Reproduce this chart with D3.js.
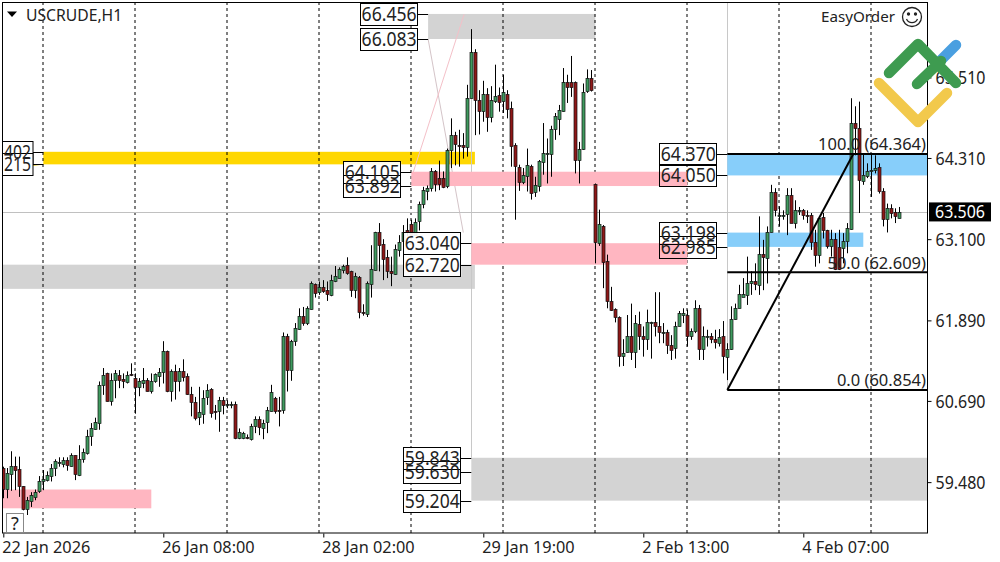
<!DOCTYPE html>
<html>
<head>
<meta charset="utf-8">
<script src="https://cdn.jsdelivr.net/npm/d3@7"></script>
<style>
html,body{margin:0;padding:0;background:#fff;overflow:hidden}
svg{display:block}
text{font-family:"Noto Sans","Liberation Sans",sans-serif;fill:#222}
</style>
</head>
<body>
<div id="chart"></div>
<script>
const opens=[59.69,59.37,59.60,59.72,59.67,59.42,59.07,59.20,59.27,59.34,
59.49,59.51,59.57,59.69,59.76,59.75,59.81,59.72,59.88,59.59,
59.82,59.91,60.16,60.27,60.36,60.93,61.10,60.69,60.99,61.08,
61.01,60.98,61.09,61.03,60.89,60.96,61.00,60.83,60.98,61.06,
61.11,61.43,60.84,61.14,60.99,61.14,61.06,60.80,60.68,60.44,
60.50,60.75,60.87,60.54,60.53,60.70,60.62,60.62,60.64,60.14,
60.14,60.15,60.12,60.31,60.42,60.29,60.37,60.54,60.73,60.55,
60.55,61.66,61.16,61.57,61.76,61.95,61.84,62.06,62.43,62.31,
62.38,62.34,62.26,62.47,62.53,62.64,62.71,62.62,62.34,62.54,
62.01,61.99,62.43,62.64,63.20,63.03,62.83,62.62,62.58,62.94,
63.08,63.23,63.33,63.16,63.36,63.62,63.82,63.86,64.11,64.01,
64.01,63.89,64.42,64.65,64.51,64.50,64.48,65.21,65.89,65.18,
65.01,65.26,64.91,65.16,65.25,65.15,65.26,65.05,64.50,64.17,
63.95,64.05,64.19,63.80,63.90,64.25,64.37,64.37,64.74,64.90,
65.01,65.44,65.44,65.44,64.28,64.44,65.30,65.50,63.92,63.05,
63.30,62.78,62.18,62.06,61.94,61.36,61.42,61.66,61.42,61.84,
61.66,61.61,61.85,61.86,61.80,61.71,61.71,61.53,61.47,61.80,
61.97,61.97,61.65,61.72,62.07,61.46,61.65,61.65,61.61,61.55,
61.66,61.35,61.47,61.91,62.08,62.25,62.26,62.44,62.47,62.42,
62.88,62.83,63.21,63.80,63.45,63.44,63.48,63.76,63.35,63.52,
63.53,63.46,63.46,63.06,62.86,63.43,63.24,63.00,63.11,62.99,
62.98,63.06,63.25,64.83,64.75,63.97,64.05,64.11,64.13,64.17,
63.82,63.41,63.57,63.50,63.42];
const highs=[59.71,59.69,59.94,59.86,59.86,59.42,59.26,59.33,59.37,59.57,
59.66,59.64,59.75,59.82,59.85,59.85,59.85,59.91,59.88,60.03,
59.98,60.26,60.36,60.44,60.98,61.18,61.11,61.10,61.15,61.15,
61.10,61.13,61.25,61.10,61.03,61.18,61.03,61.10,61.10,61.18,
61.58,61.44,61.16,61.23,61.18,61.31,61.10,60.90,60.75,60.90,
60.85,60.94,60.88,60.63,60.75,60.75,60.70,60.68,60.68,60.28,
60.23,60.19,60.35,60.46,60.46,60.41,60.60,60.93,60.75,60.75,
61.71,61.69,61.60,61.85,62.07,62.09,62.10,62.47,62.44,62.47,
62.49,62.47,62.57,62.70,62.68,62.72,62.83,62.63,62.60,62.55,
62.13,62.47,63.01,63.21,63.34,63.10,62.94,62.84,63.02,63.16,
63.31,63.41,63.39,63.41,63.66,63.88,63.90,64.16,64.13,64.27,
64.11,64.45,64.90,64.70,64.73,64.68,65.40,66.23,65.93,65.32,
65.46,65.35,65.38,65.70,65.36,65.55,65.32,65.15,64.53,64.21,
64.16,64.45,64.21,64.03,64.28,64.83,64.60,64.79,64.98,65.10,
65.65,65.55,65.83,65.45,64.55,65.42,65.63,65.62,63.93,63.54,
63.31,62.87,62.39,62.07,61.95,61.61,61.97,62.14,61.97,62.02,
61.80,62.05,61.87,62.31,62.31,61.85,61.75,61.67,61.87,62.03,
62.07,62.05,61.77,62.19,62.12,61.80,61.75,61.70,61.75,61.76,
61.88,61.55,62.10,62.14,62.42,62.52,62.84,62.62,62.74,63.44,
63.09,63.29,63.91,63.86,63.59,63.53,63.86,63.86,63.68,63.58,
63.55,63.53,63.49,63.24,63.44,63.49,63.24,63.24,63.19,63.24,
63.19,63.34,65.20,65.08,65.15,64.38,64.23,64.38,64.35,64.23,
63.86,63.63,63.62,63.56,63.58];
const lows=[59.24,59.24,59.35,59.36,59.26,59.06,58.99,59.11,59.21,59.32,
59.36,59.49,59.49,59.57,59.71,59.70,59.65,59.71,59.51,59.57,
59.77,59.89,60.02,60.26,60.26,60.78,60.68,60.62,60.73,60.88,
60.88,60.95,61.06,60.50,60.76,60.88,60.83,60.80,60.96,60.90,
60.95,60.82,60.68,60.71,60.83,60.98,60.78,60.46,60.40,60.33,
60.35,60.63,60.44,60.41,60.23,60.49,60.58,60.58,60.12,60.12,
60.12,60.12,60.10,60.21,60.18,60.12,60.21,60.53,60.50,60.31,
60.50,60.83,60.99,61.51,61.75,61.81,61.82,62.05,62.23,62.27,
62.30,62.18,62.25,62.46,62.52,62.59,62.57,62.24,62.22,61.92,
61.96,61.94,62.23,62.63,62.62,62.49,62.52,62.40,62.57,62.84,
63.04,63.14,63.14,63.16,63.23,63.56,63.68,63.81,63.81,63.83,
63.86,63.86,64.16,64.20,64.18,64.30,64.33,65.20,64.65,64.66,
64.85,64.70,64.84,65.13,65.00,64.98,64.90,64.18,63.39,63.82,
63.92,63.81,63.69,63.73,63.81,64.06,63.93,64.03,64.58,64.65,
65.00,65.13,65.22,64.08,63.93,64.43,65.28,65.30,62.74,63.00,
62.37,62.07,62.03,61.86,61.20,61.21,61.41,61.30,61.18,61.45,
61.35,61.45,61.32,61.65,61.55,61.55,61.39,61.30,61.32,61.80,
61.85,61.50,61.60,61.70,61.30,61.30,61.50,61.55,61.47,61.50,
61.10,61.00,61.45,61.90,62.07,62.24,62.12,62.27,62.34,62.27,
62.34,62.44,63.20,63.44,63.29,63.39,63.16,63.34,63.26,63.46,
63.39,63.34,62.94,62.69,62.74,63.11,62.96,62.84,62.64,62.64,
62.74,62.89,63.24,64.35,63.49,63.91,64.01,63.73,64.08,63.78,
63.29,63.20,63.41,63.34,63.41];
const closes=[59.38,59.61,59.72,59.66,59.41,59.07,59.21,59.29,59.34,59.49,
59.52,59.59,59.69,59.79,59.78,59.81,59.74,59.88,59.59,59.83,
59.93,60.16,60.28,60.37,60.93,61.08,60.69,61.00,61.10,61.00,
60.98,61.08,61.07,60.90,60.98,61.00,60.84,60.98,61.09,61.12,
61.43,60.83,61.14,60.99,61.14,61.05,60.79,60.68,60.44,60.52,
60.74,60.86,60.51,60.52,60.70,60.62,60.64,60.64,60.13,60.23,
60.21,60.13,60.32,60.42,60.30,60.36,60.55,60.82,60.53,60.54,
61.66,61.16,61.59,61.77,61.95,61.84,62.07,62.44,62.30,62.38,
62.32,62.28,62.49,62.55,62.66,62.70,62.59,62.33,62.55,62.02,
62.00,62.45,62.65,63.20,63.01,62.81,62.62,62.59,62.95,63.06,
63.21,63.20,63.16,63.35,63.62,63.83,63.87,64.12,63.91,63.92,
63.88,64.43,64.65,64.51,64.50,64.47,65.21,65.89,65.18,65.01,
65.26,64.92,65.17,65.23,65.15,65.29,65.03,64.49,64.19,63.95,
64.06,64.21,63.79,63.91,64.27,64.39,64.39,64.74,64.93,65.03,
65.44,65.36,65.36,64.28,64.45,65.29,65.50,65.32,63.05,63.33,
62.77,62.18,62.05,61.94,61.36,61.41,61.66,61.42,61.85,61.66,
61.61,61.87,61.87,61.80,61.71,61.72,61.52,61.46,61.80,62.00,
62.00,61.65,61.73,62.07,61.46,61.66,61.66,61.61,61.56,61.64,
61.36,61.47,61.91,62.08,62.29,62.29,62.44,62.47,62.42,62.88,
62.83,63.21,63.80,63.53,63.46,63.46,63.76,63.35,63.54,63.54,
63.46,63.45,63.06,62.86,63.41,63.23,63.00,63.10,62.66,62.66,
63.08,63.26,64.83,64.75,63.98,64.06,64.12,64.13,64.16,63.81,
63.41,63.57,63.50,63.44,63.506];

const priceTicks=[65.510,64.310,63.100,61.890,60.690,59.480];
const lastPrice=63.506;
const timeTickIndex=[0,40,80,120,160,200];
const timeTickLabels=["22 Jan 2026","26 Jan 08:00","28 Jan 02:00","29 Jan 19:00","2 Feb 13:00","4 Feb 07:00"];
const gridIndex=[10,33,56,79,102,125,148,171,194,217];

// zones, painted behind the candles: [start bar, end bar, upper price, lower price]
const greyZones=[[106.2,148,66.456,66.083],[-2,117.9,62.72,62.36],[117,240,59.843,59.204]];
const goldZones=[[10,117.9,64.402,64.215]];
const pinkZones=[[102,171,64.105,63.892],[117,171,63.04,62.72],[-2,37,59.37,59.09]];
const blueZones=[[181,240,64.37,64.05],[181,215,63.198,62.985]];

// price tags at the edge of a zone: [bar of the tag's leader end, price, text]
const tagsOverCandles=[[106.2,66.456,"66.456"],[106.2,66.083,"66.083"],[102,64.105,"64.105"],[102,63.892,"63.892"],
  [117,63.04,"63.040"],[117,62.72,"62.720"],[117,59.843,"59.843"],[117,59.63,"59.630"],[117,59.204,"59.204"]];
const tagsUnderZones=[[181,64.37,"64.370"],[181,64.05,"64.050"],[181,63.198,"63.198"],[181,62.985,"62.985"]];
const tagsLeft=[[10,64.402,"402"],[10,64.215,"215"]];

const fibLevels=[[64.37,"100.0 (64.364)"],[62.609,"50.0 (62.609)"],[60.854,"0.0 (60.854)"]];
const fibTrend=[[181,60.854],[212.5,64.37]];
const thinDiagonals=[[106.2,66.083,115,63.2,"#d4c4c8"],[115.2,66.45,102.5,64.1,"#f4c0c8"],[-1,64.12,9.5,64.215,"#e8d24a"]];
const thinVerticals=[[117,66.083,59.843],[181,66.63,60.854]];

const W=1000,H=562,L=3,R=927,T=2,B=533;
const y=d3.scaleLinear().domain([58.722,66.634]).range([B,T]);
const x=d3.scaleLinear().domain([0,224]).range([3.3,899.3]);
const svg=d3.select("#chart").append("svg").attr("width",W).attr("height",H);
svg.append("defs").append("clipPath").attr("id","plot").append("rect").attr("x",L).attr("y",T).attr("width",R-L).attr("height",B-T);
const plot=svg.append("g").attr("clip-path","url(#plot)");
const px=v=>Math.round(v)+.5;

function zones(g,rows,colour){
  g.selectAll(null).data(rows).enter().append("rect")
   .attr("x",d=>x(d[0])).attr("width",d=>x(d[1])-x(d[0]))
   .attr("y",d=>y(d[2])).attr("height",d=>y(d[3])-y(d[2])).attr("fill",colour);
}
function tagBoxes(g,rows){
  g.selectAll(null).data(rows).enter().append("rect")
   .attr("x",d=>x(d[0])-68).attr("y",d=>Math.round(y(d[1]))-10.5).attr("width",58).attr("height",22)
   .attr("fill","#fff").attr("fill-opacity",.92);
}
function tagOutlines(g,rows){
  g.selectAll(null).data(rows).enter().append("rect")
   .attr("x",d=>Math.round(x(d[0]))-67.5).attr("y",d=>Math.round(y(d[1]))-10.5).attr("width",57).attr("height",22)
   .attr("fill","none").attr("stroke","#000");
  g.selectAll(null).data(rows).enter().append("line")
   .attr("x1",d=>Math.round(x(d[0]))-10).attr("x2",d=>x(d[0]))
   .attr("y1",d=>px(y(d[1]))).attr("y2",d=>px(y(d[1]))).attr("stroke","#000");
  g.selectAll(null).data(rows).enter().append("text")
   .attr("x",d=>x(d[0])-39).attr("y",d=>y(d[1])+7).attr("text-anchor","middle")
   .attr("font-size",20).attr("textLength",55).attr("lengthAdjust","spacingAndGlyphs").text(d=>d[2]);
}

// behind everything
zones(plot.append("g"),greyZones,"#d3d3d3");
tagBoxes(plot.append("g"),tagsUnderZones);
zones(plot.append("g"),goldZones,"#ffd700");

// thin drawing lines
plot.append("g").selectAll("line").data(thinVerticals).enter().append("line")
  .attr("x1",d=>px(x(d[0]))).attr("x2",d=>px(x(d[0]))).attr("y1",d=>y(d[1])).attr("y2",d=>y(d[2])).attr("stroke","#c8c8c8");
plot.append("g").selectAll("line").data(thinDiagonals).enter().append("line")
  .attr("x1",d=>x(d[0])).attr("x2",d=>x(d[2])).attr("y1",d=>y(d[1])).attr("y2",d=>y(d[3])).attr("stroke",d=>d[4]);

// dashed grid
plot.append("g").selectAll("line").data(gridIndex).enter().append("line")
  .attr("x1",d=>px(x(d))-.5).attr("x2",d=>px(x(d))-.5).attr("y1",T).attr("y2",B)
  .attr("stroke","#000").attr("stroke-dasharray","3,3");

zones(plot.append("g"),pinkZones,"#ffb6c1");
zones(plot.append("g"),blueZones,"#87cefa");

// last price line
plot.append("line").attr("x1",L).attr("x2",R).attr("y1",px(y(lastPrice))).attr("y2",px(y(lastPrice))).attr("stroke","#c0c0c0");

// candles
const bars=d3.range(opens.length);
const cg=plot.append("g");
cg.selectAll("line").data(bars).enter().append("line")
  .attr("x1",i=>px(x(i))).attr("x2",i=>px(x(i))).attr("y1",i=>y(highs[i])).attr("y2",i=>y(lows[i])).attr("stroke","#000");
cg.selectAll("rect").data(bars).enter().append("rect")
  .attr("x",i=>px(x(i))-1.5).attr("width",3)
  .attr("y",i=>Math.round(y(Math.max(opens[i],closes[i])))+.5)
  .attr("height",i=>Math.max(1,Math.round(Math.abs(y(opens[i])-y(closes[i])))))
  .attr("fill",i=>closes[i]>=opens[i]?"#3f9a5f":"#8f1818").attr("stroke","#111").attr("stroke-width",.7);

// fibonacci
const fg=plot.append("g");
fg.selectAll("line").data(fibLevels).enter().append("line")
  .attr("x1",x(fibTrend[0][0])).attr("x2",R).attr("y1",d=>y(d[0])).attr("y2",d=>y(d[0])).attr("stroke","#000").attr("stroke-width",2);
fg.append("line").attr("x1",x(fibTrend[0][0])).attr("y1",y(fibTrend[0][1])).attr("x2",x(fibTrend[1][0])).attr("y2",y(fibTrend[1][1])).attr("stroke","#000").attr("stroke-width",2);
svg.append("g").selectAll("text").data(fibLevels).enter().append("text")
  .attr("x",926).attr("y",d=>y(d[0])-3.5).attr("text-anchor","end").attr("font-size",16.5).text(d=>d[1]);

// tags
tagBoxes(plot.append("g"),tagsOverCandles);
tagOutlines(plot.append("g"),tagsOverCandles);
tagOutlines(plot.append("g"),tagsUnderZones);
const lt=plot.append("g");
lt.selectAll("rect").data(tagsLeft).enter().append("rect")
  .attr("x",L-1).attr("y",d=>Math.round(y(d[1]))-10.5).attr("width",31).attr("height",22).attr("fill","#fff").attr("stroke","#000");
lt.selectAll("line").data(tagsLeft).enter().append("line")
  .attr("x1",33).attr("x2",x(10)).attr("y1",d=>px(y(d[1]))).attr("y2",d=>px(y(d[1]))).attr("stroke","#000");
lt.selectAll("text").data(tagsLeft).enter().append("text")
  .attr("x",4).attr("y",d=>y(d[1])+7).attr("font-size",20).attr("textLength",27).attr("lengthAdjust","spacingAndGlyphs").text(d=>d[2]);

// frame
svg.append("rect").attr("x",2.5).attr("y",2.5).attr("width",R-2.5+.5).attr("height",B-2.5).attr("fill","none").attr("stroke","#000");

// axes
const ya=d3.axisRight(y).tickValues(priceTicks).tickFormat(d3.format(".3f")).tickSize(4).tickPadding(3);
const yg=svg.append("g").attr("transform",`translate(${R+.5},0)`).call(ya);
yg.select(".domain").remove();
yg.selectAll("text").attr("font-size",17.5).attr("x",8).attr("dy","0.35em").attr("textLength",50).attr("lengthAdjust","spacingAndGlyphs");
const xa=d3.axisBottom(x).tickValues(timeTickIndex).tickFormat((d,i)=>timeTickLabels[i]).tickSize(4);
const xg=svg.append("g").attr("transform",`translate(0,${B+.5})`).call(xa);
xg.select(".domain").remove();
xg.selectAll("text").attr("font-size",16.3).attr("text-anchor","start").attr("y",8).attr("dy","0.71em").attr("dx",-1.5);

// last price flag
svg.append("rect").attr("x",929).attr("y",y(lastPrice)-9.5).attr("width",62).attr("height",19).attr("fill","#000");
svg.append("text").attr("x",935).attr("y",y(lastPrice)+6.5).attr("font-size",18).attr("textLength",50).attr("lengthAdjust","spacingAndGlyphs").style("fill","#fff").text(d3.format(".3f")(lastPrice));

// header
svg.append("path").attr("d","M7 11.5H17L12 17Z").attr("fill","#000");
svg.append("text").attr("x",26).attr("y",21).attr("font-size",15.7).text("USCRUDE,H1");
svg.append("text").attr("x",895).attr("y",22).attr("text-anchor","end").attr("font-size",15.2).text("EasyOrder");
const sm=svg.append("g").attr("transform","translate(912,17)").attr("fill","none").attr("stroke","#222").attr("stroke-width",1.3);
sm.append("circle").attr("r",9.5);
sm.append("circle").attr("cx",-3.5).attr("cy",-3).attr("r",1).attr("fill","#222");
sm.append("circle").attr("cx",3.5).attr("cy",-3).attr("r",1).attr("fill","#222");
sm.append("path").attr("d","M-5.5 2A6 6 0 0 0 5.5 2");

// help button
svg.append("rect").attr("x",6.5).attr("y",513.5).attr("width",17).attr("height",19).attr("fill","#fff").attr("stroke","#888");
svg.append("text").attr("x",15).attr("y",530).attr("text-anchor","middle").attr("font-size",18).text("?");

// logo
const logo=svg.append("g").attr("fill","none").attr("stroke-width",10.5).attr("stroke-linecap","round").attr("stroke-linejoin","round");
logo.append("path").attr("d","M938 63L956 45").attr("stroke","#4a9fe0");
logo.append("path").attr("d","M889 73L918 44L956 83M917 84L941 61").attr("stroke","#3e9b50");
logo.append("path").attr("d","M879 83L918 122L947 93").attr("stroke","#f2c94c");
</script>
</body>
</html>
